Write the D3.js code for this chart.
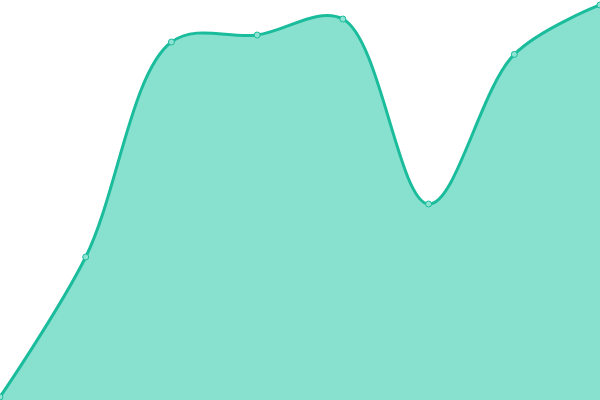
<!DOCTYPE html>
<html><head><meta charset="utf-8">
<script src="https://cdn.jsdelivr.net/npm/d3@7"></script>
<style>html,body{margin:0;padding:0;background:#fff;overflow:hidden}</style>
</head><body>
<svg id="c" width="600" height="400"></svg>
<script>
const categories = [0, 1, 2, 3, 4, 5, 6, 7];
const values = [0.75, 35.75, 89.5, 91.25, 95.25, 49, 86.4, 98.75];

const W = 600, H = 400;
const svg = d3.select('#c');
const x = d3.scaleLinear().domain([0, categories.length - 1]).range([0, W]);
const y = d3.scaleLinear().domain([0, 100]).range([H, 0]);
const data = categories.map((c, i) => ({c, v: values[i]}));

const curve = d3.curveCatmullRom.alpha(0.5);
svg.append('path').datum(data)
  .attr('d', d3.area().x(d => x(d.c)).y0(H).y1(d => y(d.v)).curve(curve))
  .attr('fill', '#88e0cf');
svg.append('path').datum(data)
  .attr('d', d3.line().x(d => x(d.c)).y(d => y(d.v)).curve(curve))
  .attr('fill', 'none').attr('stroke', '#1abc9c').attr('stroke-width', 3);
svg.selectAll('circle').data(data).join('circle')
  .attr('cx', d => x(d.c)).attr('cy', d => y(d.v)).attr('r', 3)
  .attr('fill', '#8fe3d2').attr('stroke', '#1abc9c').attr('stroke-width', 1);
</script>
</body></html>
